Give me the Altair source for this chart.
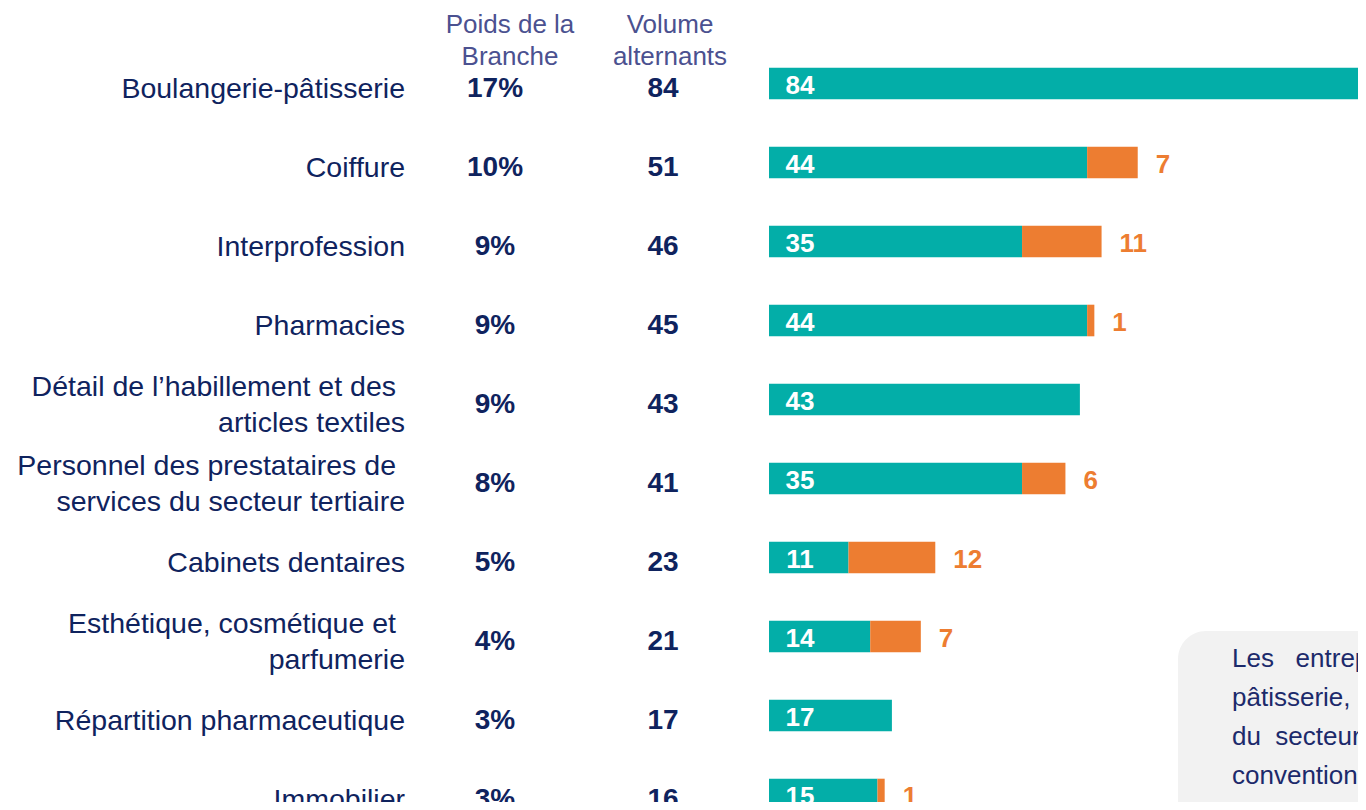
import altair as alt
import pandas as pd

# ---- data ----
categories = [
    "Boulangerie-pâtisserie",
    "Coiffure",
    "Interprofession",
    "Pharmacies",
    "Détail de l’habillement et des\narticles textiles",
    "Personnel des prestataires de\nservices du secteur tertiaire",
    "Cabinets dentaires",
    "Esthétique, cosmétique et\nparfumerie",
    "Répartition pharmaceutique",
    "Immobilier",
]
teal_values = [84, 44, 35, 44, 43, 35, 11, 14, 17, 15]
orange_values = [0, 7, 11, 1, 0, 6, 12, 7, 0, 1]
poids_labels = ["17%", "10%", "9%", "9%", "9%", "8%", "5%", "4%", "3%", "3%"]
volume_values = [84, 51, 46, 45, 43, 41, 23, 21, 17, 16]
header_poids = "Poids de la\nBranche"
header_volume = "Volume\nalternants"
box_lines = [
    "Les\u00a0\u00a0\u00a0entreprises",
    "pâtisserie,",
    "du\u00a0\u00a0secteur",
    "conventions",
    "plus grand",
]

TEAL = "#03AEA8"
ORANGE = "#ED7D31"
NAVY = "#0F235E"
HEAD = "#4B5190"
BOXTXT = "#1C2A6B"
FONT = "Liberation Sans, Arial, sans-serif"

idx = list(range(len(categories)))
df = pd.DataFrame({
    "idx": idx,
    "cat": categories,
    "teal": teal_values,
    "orange": orange_values,
    "poids": poids_labels,
    "volume": volume_values,
})
df["total"] = df["teal"] + df["orange"]
df["zero"] = 0
df["multi"] = df["cat"].str.contains("\n")
df["line1"] = df["cat"].str.split("\n").str[0]
df["line2"] = df["cat"].str.split("\n").str[-1]

bars = pd.concat([
    pd.DataFrame({"idx": idx, "seg": "teal", "start": 0, "end": teal_values}),
    pd.DataFrame({"idx": idx, "seg": "orange", "start": teal_values,
                  "end": [t + o for t, o in zip(teal_values, orange_values)]}),
])
bars = bars[bars["end"] > bars["start"]]

one = pd.DataFrame({"k": [0]})

yscale = alt.Scale(range=[36, 826], paddingInner=0.6, paddingOuter=0.3)
xscale = alt.Scale(domain=[0, 100], range=[761, 1484], nice=False, zero=False)
Y = alt.Y("idx:O", scale=yscale, axis=None)

bar_layer = alt.Chart(bars).mark_bar(clip=True).encode(
    x=alt.X("start:Q", scale=xscale, axis=None),
    x2="end:Q",
    y=Y,
    color=alt.Color("seg:N", scale=alt.Scale(domain=["teal", "orange"], range=[TEAL, ORANGE]), legend=None),
)

teal_text = alt.Chart(df).mark_text(
    align="center", baseline="middle", dx=31, dy=2, fontSize=26, fontWeight="bold",
    color="white", font=FONT, clip=True,
).encode(x=alt.X("zero:Q", scale=xscale), y=Y, text="teal:Q")

orange_text = alt.Chart(df).transform_filter("datum.orange > 0").mark_text(
    align="left", baseline="middle", dx=18, dy=2, fontSize=26, fontWeight="bold",
    color=ORANGE, font=FONT, clip=True,
).encode(x=alt.X("total:Q", scale=xscale), y=Y, text="orange:Q")

cat_single = alt.Chart(df).transform_filter("!datum.multi").mark_text(
    align="right", baseline="middle", dy=5, fontSize=28.5,
    color=NAVY, font=FONT,
).encode(x=alt.value(397), y=Y, text="cat:N")

cat_multi1 = alt.Chart(df).transform_filter("datum.multi").mark_text(
    align="right", baseline="middle", dx=-9, dy=-13, fontSize=28.5,
    color=NAVY, font=FONT,
).encode(x=alt.value(397), y=Y, text="line1:N")

cat_multi2 = alt.Chart(df).transform_filter("datum.multi").mark_text(
    align="right", baseline="middle", dy=23, fontSize=28.5,
    color=NAVY, font=FONT,
).encode(x=alt.value(397), y=Y, text="line2:N")

poids_text = alt.Chart(df).mark_text(
    align="center", baseline="middle", dy=5, fontSize=28, fontWeight="bold", color=NAVY, font=FONT,
).encode(x=alt.value(487), y=Y, text="poids:N")

volume_text = alt.Chart(df).mark_text(
    align="center", baseline="middle", dy=5, fontSize=28, fontWeight="bold", color=NAVY, font=FONT,
).encode(x=alt.value(655), y=Y, text="volume:Q")

head1 = alt.Chart(one).mark_text(
    align="center", baseline="middle", fontSize=26, lineHeight=32, lineBreak="\n",
    color=HEAD, font=FONT, text=header_poids,
).encode(x=alt.value(502), y=alt.value(17))

head2 = alt.Chart(one).mark_text(
    align="center", baseline="middle", fontSize=26, lineHeight=32, lineBreak="\n",
    color=HEAD, font=FONT, text=header_volume,
).encode(x=alt.value(662), y=alt.value(17))

box = alt.Chart(one).mark_rect(cornerRadius=28, color="#F2F2F2", clip=True).encode(
    x=alt.value(1170), x2=alt.value(1600), y=alt.value(623), y2=alt.value(1100)
)

box_text = alt.Chart(one).mark_text(
    align="left", baseline="alphabetic", fontSize=26, lineHeight=39, lineBreak="\n",
    color=BOXTXT, font=FONT, clip=True, text="\n".join(box_lines),
).encode(x=alt.value(1224), y=alt.value(659))

chart = alt.layer(
    bar_layer, teal_text, orange_text, cat_single, cat_multi1, cat_multi2,
    poids_text, volume_text, head1, head2, box, box_text,
).properties(
    width=1350, height=794,
    autosize=alt.AutoSizeParams(type="none"),
    padding=0,
    background="white",
).configure_view(stroke=None)

chart.save("out.html", embed_options={"renderer": "svg", "actions": False})
